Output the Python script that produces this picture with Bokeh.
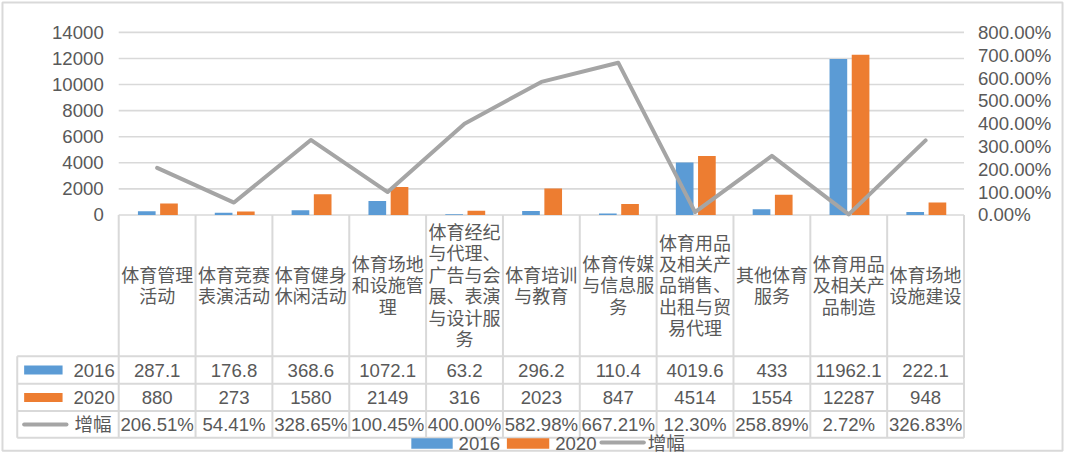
import numpy as np
from bokeh.plotting import figure
from bokeh.models import Range1d, LinearAxis, FixedTicker, PrintfTickFormatter
from bokeh.core.properties import value
from bokeh.embed import file_html
from bokeh.resources import INLINE

# ---------------- data ----------------
categories = [
    "体育管理活动", "体育竞赛表演活动", "体育健身休闲活动", "体育场地和设施管理",
    "体育经纪与代理、广告与会展、表演与设计服务", "体育培训与教育", "体育传媒与信息服务",
    "体育用品及相关产品销售、出租与贸易代理", "其他体育服务", "体育用品及相关产品制造",
    "体育场地设施建设",
]
values_2016 = [287.1, 176.8, 368.6, 1072.1, 63.2, 296.2, 110.4, 4019.6, 433, 11962.1, 222.1]
values_2020 = [880, 273, 1580, 2149, 316, 2023, 847, 4514, 1554, 12287, 948]
growth_pct = [206.51, 54.41, 328.65, 100.45, 400.00, 582.98, 667.21, 12.30, 258.89, 2.72, 326.83]
series_names = ["2016", "2020", "增幅"]
left_ticks = [0, 2000, 4000, 6000, 8000, 10000, 12000, 14000]
right_ticks = [0, 100, 200, 300, 400, 500, 600, 700, 800]

# ---------------- style ----------------
BLUE, ORANGE, GRAY = "#5B9BD5", "#ED7D31", "#A5A5A5"
TXT = "#595959"
LINE = "#D9D9D9"
FONT_NAME = "Liberation Sans, Noto Sans CJK SC"
FONT = value(FONT_NAME)
NUM_SIZE = "18.6px"
CJK_SIZE = "18px"

W, H = 1064, 456
# layout is described in a 1080 x 472 design space that is mapped onto the figure
DW, DH = 1080, 472
PLOT_L, CAT_W, N = 120, 78, len(categories)
PLOT_R = PLOT_L + CAT_W * N
Y_TOP, Y_ZERO = 33, 222
LMAX, RMAX = left_ticks[-1], right_ticks[-1]
ppu_l = (Y_ZERO - Y_TOP) / LMAX
ppu_r = (Y_ZERO - Y_TOP) / RMAX

p = figure(
    width=W, height=H, output_backend="svg", toolbar_location=None,
    x_range=Range1d(-PLOT_L / CAT_W, N + (DW - PLOT_R) / CAT_W),
    y_range=Range1d(-(DH - Y_ZERO) / ppu_l, LMAX + Y_TOP / ppu_l),
    x_axis_type=None, y_axis_type=None, min_border=0,
)
p.min_border_left = p.min_border_right = p.min_border_top = p.min_border_bottom = 0
p.outline_line_color = None
p.background_fill_color = "white"
p.border_fill_color = "white"
p.extra_y_ranges = {
    "pct": Range1d(-(DH - Y_ZERO) / ppu_r, RMAX + Y_TOP / ppu_r),
    "tbl": Range1d(DH, 0),
}
p.extra_x_ranges = {"px": Range1d(0, DW)}

idx = np.arange(N) + 0.5

# outer chart border
p.quad(left=2, right=1078, top=2, bottom=466, fill_color=None, line_color=LINE, line_width=2,
       x_range_name="px", y_range_name="tbl")

# gridlines
p.segment(x0=0, x1=N, y0=left_ticks, y1=left_ticks, line_color=LINE, line_width=1.6)

# bars
b1 = p.vbar(x=idx - 0.135, top=values_2016, bottom=0, width=0.23, fill_color=BLUE, line_color=None)
b2 = p.vbar(x=idx + 0.154, top=values_2020, bottom=0, width=0.23, fill_color=ORANGE, line_color=None)
# growth line
ln = p.line(x=idx, y=growth_pct, y_range_name="pct", line_color=GRAY, line_width=4,
            line_join="round", line_cap="round")

# axes
left = LinearAxis(ticker=FixedTicker(ticks=left_ticks), fixed_location=0)
right = LinearAxis(y_range_name="pct", ticker=FixedTicker(ticks=right_ticks),
                   formatter=PrintfTickFormatter(format="%.2f%%"), fixed_location=N)
for ax, so in ((left, 9), (right, 8)):
    ax.axis_line_color = None
    ax.major_tick_line_color = None
    ax.minor_tick_line_color = None
    ax.major_label_text_font_size = NUM_SIZE
    ax.major_label_text_color = TXT
    ax.major_label_text_font = FONT_NAME
    ax.major_label_standoff = so
p.add_layout(left, "left")
p.add_layout(right, "right")

# ---------------- data table ----------------
HDR_TOP, HDR_BOT = 222, 368
ROW_EDGES = [368.3, 396.7, 425.0, 452.7]
TBL_L = 17
row_c = [(ROW_EDGES[i] + ROW_EDGES[i + 1]) / 2 for i in range(3)]

def wrap(s, n=4):
    return "\n".join(s[i:i + n] for i in range(0, len(s), n))

# grid lines of table
p.segment(x0=list(range(N + 1)), x1=list(range(N + 1)), y0=HDR_TOP, y1=ROW_EDGES[-1],
          y_range_name="tbl", line_color=LINE, line_width=2)
p.segment(x0=TBL_L, x1=TBL_L, y0=ROW_EDGES[0], y1=ROW_EDGES[-1],
          x_range_name="px", y_range_name="tbl", line_color=LINE, line_width=2)
p.segment(x0=TBL_L, x1=PLOT_R, y0=ROW_EDGES, y1=ROW_EDGES,
          x_range_name="px", y_range_name="tbl", line_color=LINE, line_width=2)

# header row (categories)
p.text(x=idx, y=(HDR_TOP + HDR_BOT) / 2 + 1, text=[wrap(c) for c in categories], y_range_name="tbl",
       text_align="center", text_baseline="middle", text_font=FONT, text_font_size=CJK_SIZE,
       text_line_height=1.07, text_color=TXT)

rows = [
    [f"{v:g}" for v in values_2016],
    [f"{v:g}" for v in values_2020],
    [f"{v:.2f}%" for v in growth_pct],
]
for r, texts in enumerate(rows):
    p.text(x=idx, y=row_c[r], text=texts, y_range_name="tbl", text_align="center",
           text_baseline="middle", text_font=FONT, text_font_size=NUM_SIZE, text_color=TXT)

# row headers (legend keys)
p.quad(left=24, right=63, top=[row_c[0] - 4.7, row_c[1] - 4.7], bottom=[row_c[0] + 4.7, row_c[1] + 4.7],
       fill_color=[BLUE, ORANGE], line_color=None, x_range_name="px", y_range_name="tbl")
p.segment(x0=24, x1=67, y0=row_c[2], y1=row_c[2], line_color=GRAY, line_width=4, line_cap="round",
          x_range_name="px", y_range_name="tbl")
p.text(x=[74, 74, 75], y=row_c, text=series_names, x_range_name="px", y_range_name="tbl",
       text_align="left", text_baseline="middle", text_font=FONT, text_font_size=NUM_SIZE, text_color=TXT)

# bottom legend
LEG_Y = 458.5
p.quad(left=[417, 514], right=[459, 557], top=LEG_Y - 5.5, bottom=LEG_Y + 5.5,
       fill_color=[BLUE, ORANGE], line_color=None, x_range_name="px", y_range_name="tbl")
p.segment(x0=610, x1=653, y0=LEG_Y - 1, y1=LEG_Y - 1, line_color=GRAY, line_width=4, line_cap="round",
          x_range_name="px", y_range_name="tbl")
p.text(x=[465, 563, 657], y=LEG_Y, text=series_names, x_range_name="px", y_range_name="tbl",
       text_align="left", text_baseline="middle", text_font=FONT, text_font_size=NUM_SIZE, text_color=TXT)

open("out.html", "w").write(file_html(p, INLINE))
